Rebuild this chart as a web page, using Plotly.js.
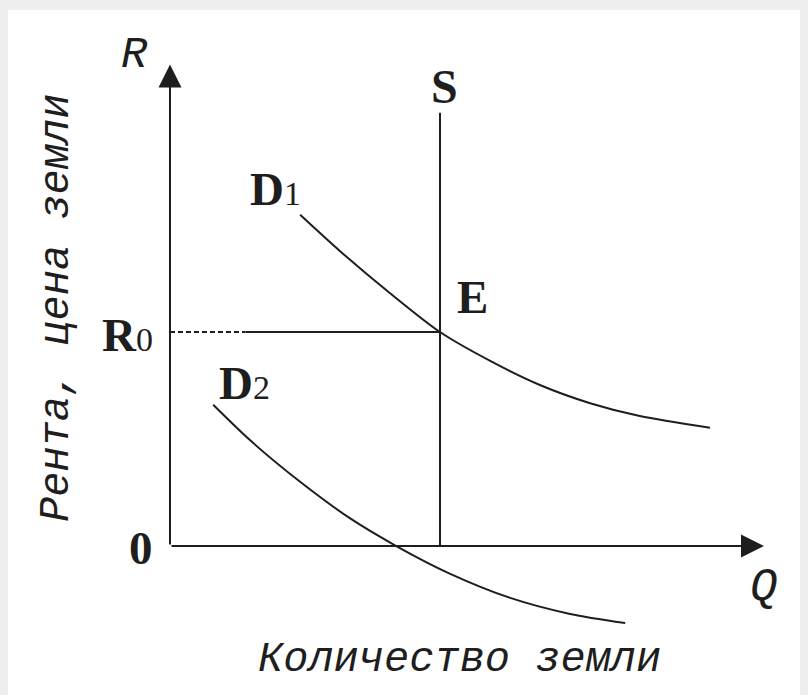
<!DOCTYPE html>
<html>
<head>
<meta charset="utf-8">
<script src="https://cdn.plot.ly/plotly-3.0.1.min.js"></script>
<style>html,body{margin:0;padding:0;background:#eeeeee;}#chart{width:808px;height:695px;}</style>
</head>
<body>
<div id="chart"></div>
<script>
// ---- data (chart units: Q = quantity of land, R = rent) ----
const supplyQ = [5, 5];
const supplyR = [0, 8.1];

const equilibriumQ = 5;
const equilibriumR = 4;          // R0
const r0DashEndQ = 1.4;          // dashed part of the R0 line ends here

const d1Q = [2.41, 3.15, 4.07, 5.0, 5.93, 6.85, 7.78, 8.70, 10.0];
const d1R = [6.19, 5.51, 4.73, 4.0, 3.46, 3.01, 2.67, 2.43, 2.21];

const d2Q = [0.80, 1.48, 2.41, 3.33, 4.19, 5.19, 6.30, 7.41, 8.43];
const d2R = [2.64, 1.98, 1.20, 0.52, 0.0, -0.52, -0.97, -1.27, -1.44];

const axisTipQ = 11.0;           // end of the Q axis arrow
const axisTipR = 9.0;            // end of the R axis arrow

const xTitle = 'Количество земли';
const yTitle = 'Рента, цена земли';

// ---- styles ----
const ink = '#1e1e1e';
const serif = 'Liberation Serif, serif';
const mono = 'Liberation Mono, monospace';

const traces = [
  {x: d1Q, y: d1R, mode: 'lines', line: {color: ink, width: 2, shape: 'spline', smoothing: 0.8}, hoverinfo: 'skip'},
  {x: d2Q, y: d2R, mode: 'lines', line: {color: ink, width: 2, shape: 'spline', smoothing: 0.8}, hoverinfo: 'skip'},
  {x: supplyQ, y: supplyR, mode: 'lines', line: {color: ink, width: 2}, hoverinfo: 'skip'},
  {x: [0, r0DashEndQ], y: [equilibriumR, equilibriumR], mode: 'lines', line: {color: ink, width: 2, dash: '5px,3px'}, hoverinfo: 'skip'},
  {x: [r0DashEndQ, equilibriumQ], y: [equilibriumR, equilibriumR], mode: 'lines', line: {color: ink, width: 2.2}, hoverinfo: 'skip'}
];

function label(x, y, text, opts) {
  return Object.assign({x: x, y: y, xref: 'x', yref: 'y', text: text, showarrow: false,
    font: {family: serif, size: 47, color: ink}}, opts || {});
}
function arrow(x, y) {
  return {x: x, y: y, ax: 0, ay: 0, xref: 'x', yref: 'y', axref: 'x', ayref: 'y', text: '',
    showarrow: true, arrowhead: 2, arrowsize: 2.3, arrowwidth: 2, arrowcolor: ink};
}

const annotations = [
  arrow(axisTipQ, 0),
  arrow(0, axisTipR),
  label(-0.65, 9.18, 'R', {font: {family: mono, size: 44, color: ink, style: 'italic'}}),
  label(11.0, -0.79, 'Q', {font: {family: mono, size: 46, color: ink, style: 'italic'}}),
  label(5.09, 8.58, 'S', {font: {family: serif, size: 48, color: ink, weight: 600}}),
  label(1.44, 6.67, '<b>D</b><span style="font-size:34px">1</span>', {xanchor: 'left'}),
  label(0.87, 3.05, '<b>D</b><span style="font-size:34px">2</span>', {xanchor: 'left'}),
  label(5.28, 4.65, '<b>E</b>', {xanchor: 'left'}),
  label(-1.30, 3.94, '<b>R</b><span style="font-size:34px">0</span>', {xanchor: 'left'}),
  label(-0.54, -0.04, '<b>0</b>'),
  label(5.37, -2.13, xTitle, {font: {family: mono, size: 42, color: ink, style: 'italic'}}),
  label(-2.09, 4.45, yTitle, {textangle: -90, font: {family: mono, size: 42, color: ink, style: 'italic'}})
];

const layout = {
  width: 808, height: 695,
  margin: {l: 0, r: 0, t: 0, b: 0},
  paper_bgcolor: '#eeeeee',
  plot_bgcolor: 'rgba(0,0,0,0)',
  showlegend: false,
  xaxis: {range: [-3.148, 11.815], visible: false, fixedrange: true},
  yaxis: {range: [-2.785, 10.206], visible: false, fixedrange: true},
  shapes: [{type: 'rect', xref: 'paper', yref: 'paper', x0: 8/808, x1: 800/808, y0: 0, y1: 1 - 10/695,
    fillcolor: '#ffffff', line: {width: 0}, layer: 'below'}],
  annotations: annotations
};

Plotly.newPlot('chart', traces, layout, {staticPlot: true});
</script>
</body>
</html>
